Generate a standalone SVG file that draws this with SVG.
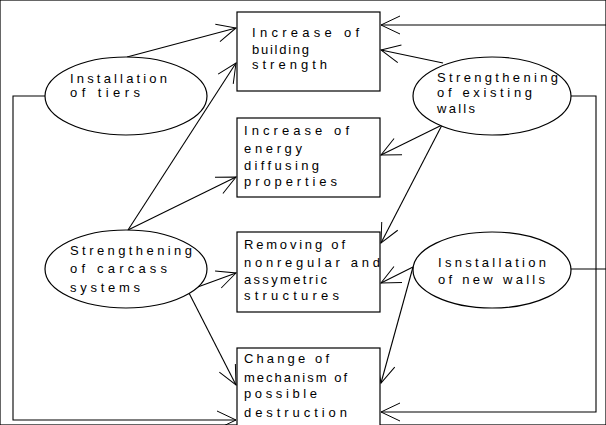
<svg xmlns="http://www.w3.org/2000/svg" width="606" height="425" viewBox="0 0 606 425">
<defs>
<marker id="arr" markerUnits="userSpaceOnUse" markerWidth="24" markerHeight="24" viewBox="-20 -12 22 24" refX="0" refY="0" orient="auto" overflow="visible">
<path d="M-19,-9 L0,0 L-19,9" fill="none" stroke="#000" stroke-width="1"/>
</marker>
</defs>
<style>
rect, ellipse { fill: #fff; stroke: #000; stroke-width: 1.2; }
.c line, .c polyline { fill: none; stroke: #000; stroke-width: 1.1; }
text { font-family: "Liberation Sans", "DejaVu Sans", sans-serif; font-size: 13px; fill: #000; }
</style>
<rect width="606" height="425" fill="#fff" stroke="none"/>
<g class="c" id="connectors">
<polyline points="45,96 13,96 13,420 236,420" marker-end="url(#arr)"/>
<line x1="606" y1="25" x2="381" y2="25" marker-end="url(#arr)"/>
<polyline points="571,96 596,96 596,412 381,412" marker-end="url(#arr)"/>
<line x1="571" y1="269" x2="606" y2="269"/>
<line x1="127" y1="57" x2="236" y2="28" marker-end="url(#arr)"/>
<line x1="128" y1="230" x2="236" y2="63" marker-end="url(#arr)"/>
<line x1="128" y1="230" x2="236" y2="177" marker-end="url(#arr)"/>
<line x1="195" y1="288" x2="236" y2="273" marker-end="url(#arr)"/>
<line x1="189" y1="293" x2="236" y2="385" marker-end="url(#arr)"/>
<line x1="443" y1="63" x2="381" y2="50" marker-end="url(#arr)"/>
<line x1="442" y1="125" x2="381" y2="155" marker-end="url(#arr)"/>
<line x1="442" y1="125" x2="381" y2="243" marker-end="url(#arr)"/>
<line x1="413" y1="267" x2="381" y2="283" marker-end="url(#arr)"/>
<line x1="413" y1="267" x2="381" y2="383" marker-end="url(#arr)"/>
</g>
<g id="box-strength">
<rect x="237" y="12" width="143" height="79"/>
<text x="252" y="37" textLength="107" lengthAdjust="spacing">Increase of</text>
<text x="252" y="54" textLength="57" lengthAdjust="spacing">building</text>
<text x="252" y="69" textLength="75" lengthAdjust="spacing">strength</text>
</g>
<g id="box-energy">
<rect x="237" y="118" width="143" height="79"/>
<text x="244" y="135" textLength="105" lengthAdjust="spacing">Increase of</text>
<text x="244" y="153" textLength="58" lengthAdjust="spacing">energy</text>
<text x="244" y="170" textLength="75" lengthAdjust="spacing">diffusing</text>
<text x="244" y="186" textLength="93" lengthAdjust="spacing">properties</text>
</g>
<g id="box-removing">
<rect x="237" y="232" width="143" height="80"/>
<text x="244" y="249" textLength="101" lengthAdjust="spacing">Removing of</text>
<text x="244" y="267" textLength="136" lengthAdjust="spacing">nonregular and</text>
<text x="244" y="284" textLength="83" lengthAdjust="spacing">assymetric</text>
<text x="244" y="300" textLength="95" lengthAdjust="spacing">structures</text>
</g>
<g id="box-change">
<rect x="237" y="348" width="143" height="90"/>
<text x="244" y="363" textLength="85" lengthAdjust="spacing">Change of</text>
<text x="244" y="382" textLength="103" lengthAdjust="spacing">mechanism of</text>
<text x="244" y="398" textLength="73" lengthAdjust="spacing">possible</text>
<text x="244" y="417" textLength="103" lengthAdjust="spacing">destruction</text>
</g>
<g id="ell-tiers">
<ellipse cx="126" cy="96" rx="81" ry="39"/>
<text x="70" y="83" textLength="97" lengthAdjust="spacing">Installation</text>
<text x="70" y="97" textLength="70" lengthAdjust="spacing">of tiers</text>
</g>
<g id="ell-carcass">
<ellipse cx="126" cy="269" rx="81" ry="39"/>
<text x="70" y="255" textLength="122" lengthAdjust="spacing">Strengthening</text>
<text x="70" y="273" textLength="97" lengthAdjust="spacing">of carcass</text>
<text x="70" y="292" textLength="70" lengthAdjust="spacing">systems</text>
</g>
<g id="ell-existing">
<ellipse cx="492" cy="96" rx="79" ry="39"/>
<text x="437" y="82" textLength="121" lengthAdjust="spacing">Strengthening</text>
<text x="437" y="97" textLength="95" lengthAdjust="spacing">of existing</text>
<text x="437" y="113" textLength="38" lengthAdjust="spacing">walls</text>
</g>
<g id="ell-newwalls">
<ellipse cx="492" cy="270" rx="79" ry="38"/>
<text x="438" y="267" textLength="108" lengthAdjust="spacing">Isnstallation</text>
<text x="438" y="284" textLength="107" lengthAdjust="spacing">of new walls</text>
</g>
</svg>
